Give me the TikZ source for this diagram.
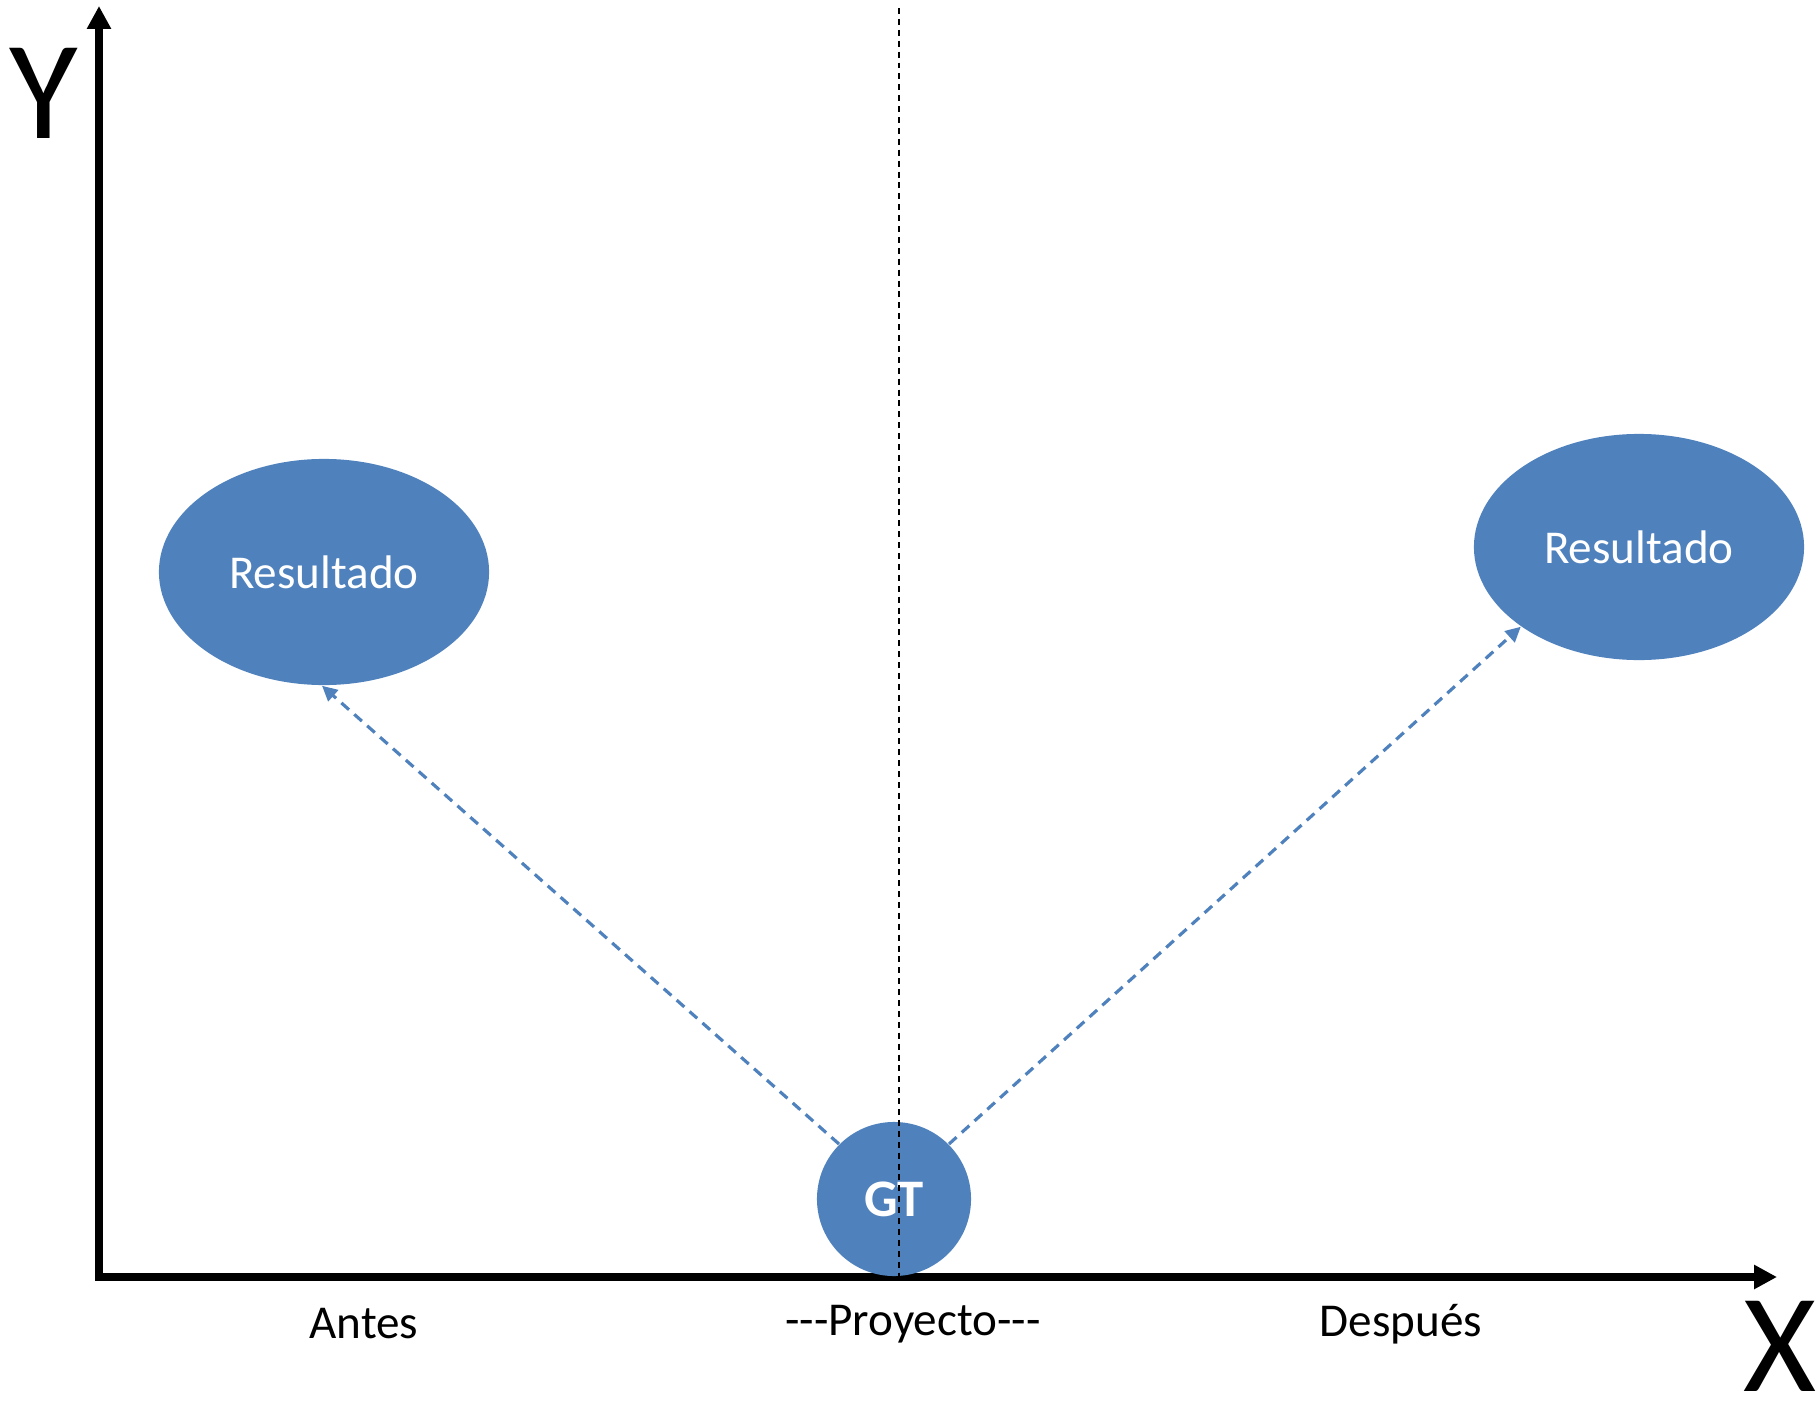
\documentclass[tikz,border=0pt]{standalone}
\usepackage{fontspec}
\setmainfont{Carlito}
\usetikzlibrary{arrows.meta,shapes.geometric}
\definecolor{officeblue}{HTML}{4F81BD}
\begin{document}
\begin{tikzpicture}[x=0.01cm,y=-0.01cm,
  axis/.style={line width=2pt,{Triangle[length=6.5pt,width=6.5pt]}-{Triangle[length=6.5pt,width=6.5pt]}},
  guide/.style={line width=0.45pt,dash pattern=on 1.7pt off 1.4pt},
  result/.style={ellipse,fill=officeblue,minimum width=3.3cm,minimum height=2.26cm,inner sep=0,text=white,font=\fontsize{13.4pt}{15pt}\selectfont},
  gtnode/.style={circle,fill=officeblue,minimum size=1.54cm,inner sep=0,text=white,font=\fontsize{15pt}{17pt}\selectfont\bfseries},
  link/.style={draw=officeblue,line width=0.9pt,dash pattern=on 2.9pt off 2pt,-{Triangle[length=4.3pt,width=4.2pt]}},
  tick/.style={font=\fontsize{13.4pt}{15pt}\selectfont,inner sep=0},
  axislabel/.style={font=\fontsize{40pt}{44pt}\selectfont,inner sep=0}]
\useasboundingbox (0,0) rectangle (1820,1406);

% axes
\coordinate (ytop) at (99,6);
\coordinate (xend) at (1777,1277);
\draw[axis] (ytop) |- (xend);
\node[axislabel] (ylab) at (44,93) {Y};
\node[axislabel] (xlab) at (1780,1346) {X};

% result ellipses and starting circle
\node[result] (before) at (324,572) {Resultado};
\node[result] (after) at (1639,547) {Resultado};
\node[gtnode] (gt) at (894,1199) {GT};

% project line
\coordinate (ptop) at (899,8);
\coordinate (pbot) at (899,1277);
\draw[guide] (ptop) -- (pbot);

% dashed links
\draw[link] (gt.135) -- (before.269);
\draw[link] (gt.45) -- (after.214);

% time labels
\node[tick] (antes) at (364,1324) {Antes};
\node[tick] (proy) at (913,1324) {-{}-{}-Proyecto-{}-{}-};
\node[tick] (desp) at (1401,1324) {Después};
\end{tikzpicture}
\end{document}
